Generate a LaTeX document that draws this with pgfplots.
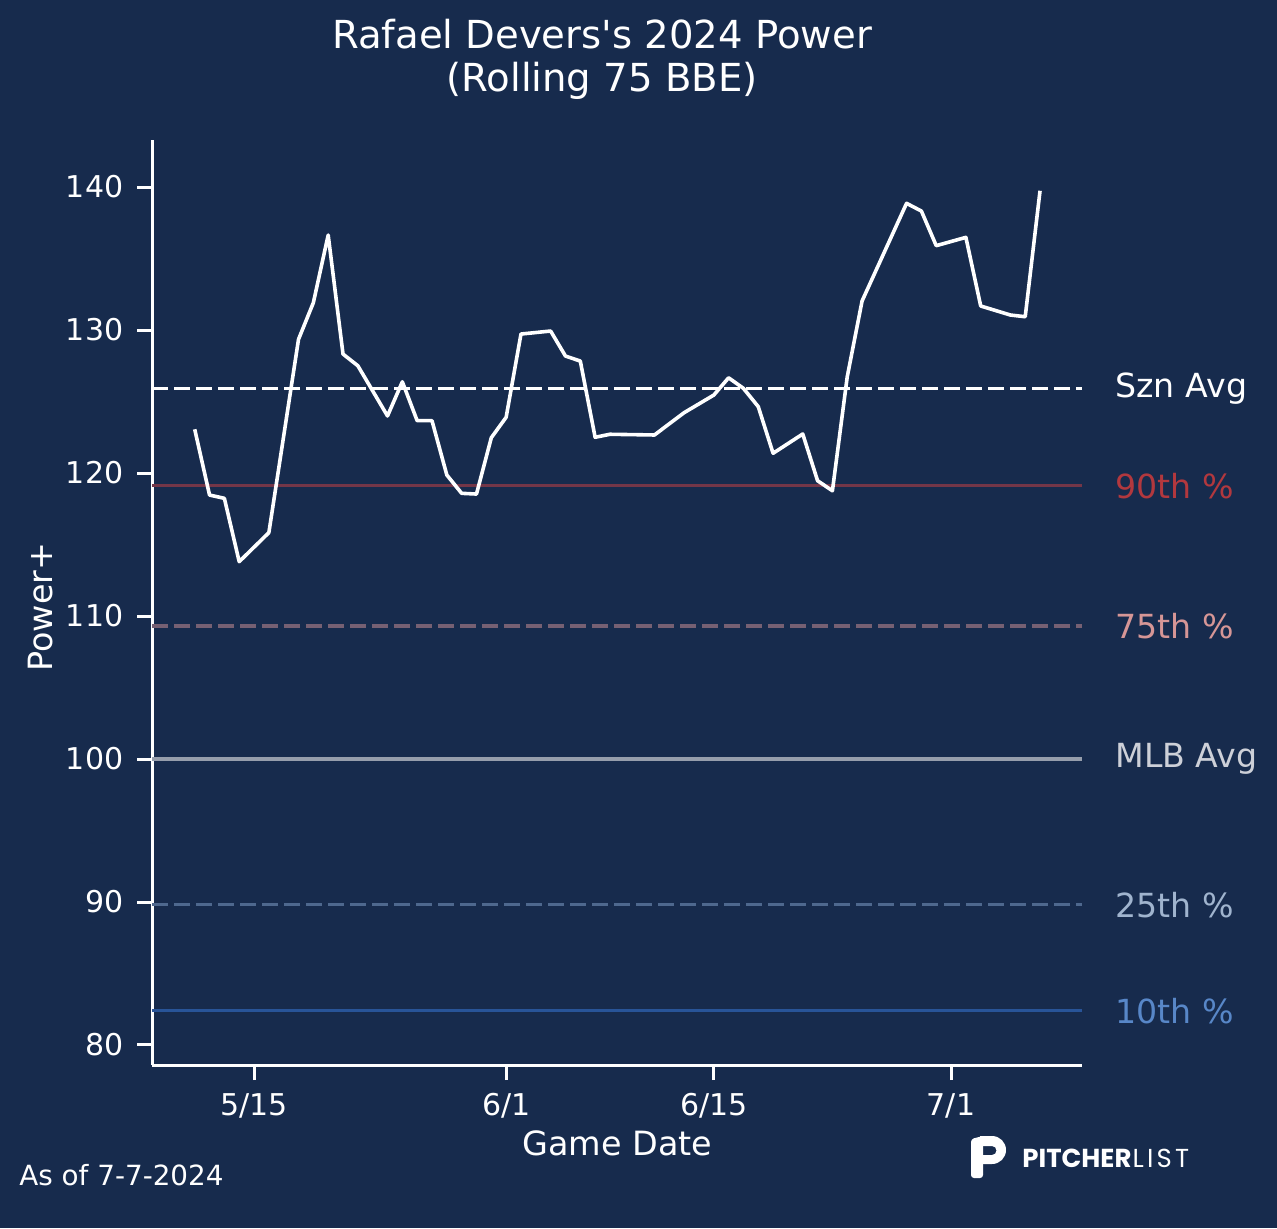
\documentclass[border=0pt]{standalone}
\usepackage{fontspec}
\setmainfont{DejaVu Sans}
\newfontfamily\logofont{Poppins}
\usepackage{pgfplots}
\usepackage{pgfplotstable}
\pgfplotsset{compat=1.18}
\definecolor{bg}{RGB}{23,43,77}
\definecolor{c90}{RGB}{115,54,72}
\definecolor{t90}{RGB}{178,56,62}
\definecolor{c75}{RGB}{118,96,115}
\definecolor{t75}{RGB}{214,150,150}
\definecolor{cmlb}{RGB}{150,158,172}
\definecolor{tmlb}{RGB}{205,208,216}
\definecolor{c25}{RGB}{78,104,142}
\definecolor{t25}{RGB}{160,180,206}
\definecolor{c10}{RGB}{40,84,152}
\definecolor{t10}{RGB}{88,135,200}

\pgfplotstableread{
d v
-4 123.06
-3 118.46
-2 118.23
-1 113.80
1 115.83
3 129.35
4 131.91
5 136.64
6 128.32
7 127.50
9 123.99
10 126.38
11 123.66
12 123.66
13 119.86
14 118.58
15 118.53
16 122.47
17 123.90
18 129.72
20 129.93
21 128.18
22 127.83
23 122.50
24 122.71
27 122.66
29 124.22
31 125.45
32 126.66
33 125.92
34 124.64
35 121.38
37 122.73
38 119.46
39 118.76
40 126.73
41 132.03
44 138.86
45 138.32
46 135.90
48 136.48
49 131.68
51 131.05
52 130.93
53 139.74
}\devers

\begin{document}
\begin{tikzpicture}
\fill[bg] (0,0) rectangle (638.5pt,614pt);
\path[use as bounding box] (0,0) rectangle (638.5pt,614pt);
\begin{axis}[
  at={(76pt,81.5pt)}, anchor=south west,
  scale only axis, width=465pt, height=462.5pt,
  xmin=-6.88, xmax=55.83, ymin=78.6, ymax=143.29,
  axis x line*=bottom, axis y line*=left,
  axis line style={white, line width=1.5pt, -},
  tick align=outside, major tick length=7.5pt,
  tick style={white, line width=1.5pt},
  xtick={0,17,31,47}, xticklabels={5/15,6/1,6/15,7/1},
  ytick={80,90,100,110,120,130,140},
  ticklabel style={font=\fontsize{15}{18}\selectfont, text=white, inner sep=0pt},
  xticklabel style={yshift=-6.5pt},
  yticklabel style={xshift=-6.7pt},
  /pgf/number format/assume math mode=true,
  clip=false,
]
\addplot[c10, line width=1.6pt] coordinates {(-6.88,82.4) (55.83,82.4)};
\addplot[c25, line width=1.6pt, dash pattern=on 8pt off 3pt] coordinates {(-6.88,89.8) (55.83,89.8)};
\addplot[cmlb, line width=1.6pt] coordinates {(-6.88,100) (55.83,100)};
\addplot[c75, line width=1.6pt, dash pattern=on 8pt off 3pt] coordinates {(-6.88,109.3) (55.83,109.3)};
\addplot[c90, line width=1.6pt] coordinates {(-6.88,119.1) (55.83,119.1)};
\addplot[white, line width=1.6pt, dash pattern=on 8pt off 3pt] coordinates {(-6.88,125.9) (55.83,125.9)};
\addplot[white, line width=1.8pt, line join=round] table[x=d, y=v] {\devers};
\node[anchor=west, inner sep=0, text=white, font=\fontsize{16.6}{20}\selectfont] at (axis cs:58.06,125.9) {Szn Avg};
\node[anchor=west, inner sep=0, text=t90, font=\fontsize{16.6}{20}\selectfont] at (axis cs:58.06,119.1) {90th \%};
\node[anchor=west, inner sep=0, text=t75, font=\fontsize{16.6}{20}\selectfont] at (axis cs:58.06,109.3) {75th \%};
\node[anchor=west, inner sep=0, text=tmlb, font=\fontsize{16.6}{20}\selectfont] at (axis cs:58.06,100) {MLB Avg};
\node[anchor=west, inner sep=0, text=t25, font=\fontsize{16.6}{20}\selectfont] at (axis cs:58.06,89.8) {25th \%};
\node[anchor=west, inner sep=0, text=t10, font=\fontsize{16.6}{20}\selectfont] at (axis cs:58.06,82.4) {10th \%};
\end{axis}
\begin{scope}[x=0.5pt, y=-0.5pt, shift={(0pt,614pt)}]
\node[anchor=base, inner sep=0, text=white, font=\fontsize{19.3}{23}\selectfont] at (602,49) {Rafael Devers\textquotesingle s 2024 Power};
\node[anchor=base, inner sep=0, text=white, font=\fontsize{19.3}{23}\selectfont] at (602,92) {(Rolling 75 BBE)};
\node[anchor=base, inner sep=0, text=white, font=\fontsize{16.7}{20}\selectfont] at (617.5,1155) {Game Date};
\node[anchor=base, inner sep=0, text=white, rotate=90, font=\fontsize{16.7}{20}\selectfont] at (52.5,607) {Power+};
\node[anchor=base west, inner sep=0, text=white, font=\fontsize{13.9}{17}\selectfont] at (19,1185) {As of 7-7-2024};
\fill[white, rounded corners=1.5] (971,1139) -- (983,1136) -- (983,1178) -- (971,1178) -- cycle;
\fill[white, even odd rule] (980,1136) -- (992,1136) arc[start angle=-90, end angle=90, radius=14] -- (980,1164) -- cycle
  (980,1146) -- (992,1146) arc[start angle=-90, end angle=90, radius=4.5] -- (980,1155) -- cycle;
\node[anchor=base west, inner sep=0, text=white, font=\logofont\fontsize{13}{15}\selectfont] at (1022,1167) {\textbf{PITCHER}\kern0.6pt L\kern1.6pt I\kern1.6pt S\kern1.6pt T};
\end{scope}
\end{tikzpicture}
\end{document}
